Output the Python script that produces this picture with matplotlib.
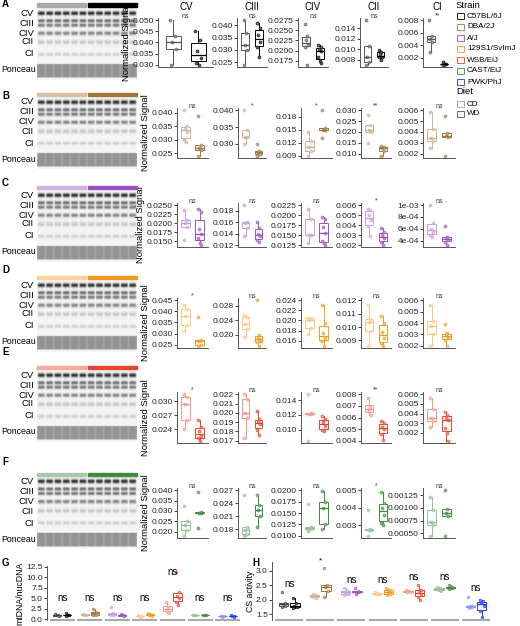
import numpy as np
import matplotlib
matplotlib.use("Agg")
import matplotlib.pyplot as plt
from matplotlib.colors import to_rgb
from matplotlib.patches import Rectangle

W, H = 520, 626
plt.rcParams['font.family'] = ['Liberation Sans', 'DejaVu Sans']

strains = ["C57BL/6J", "DBA/2J", "A/J", "129S1/SvImJ", "WSB/EiJ", "CAST/EiJ", "PWK/PhJ"]
strain_colors = ["#000000", "#A0763A", "#9B4FC0", "#F29A1D", "#E8432B", "#3C8C3C", "#1E35F0"]
complexes = ["CV", "CIII", "CIV", "CII", "CI"]
row_letters = ["A", "B", "C", "D", "E", "F"]

panel_A = [
    ([0.050, 0.043, 0.040, 0.037, 0.030], [0.045, 0.041, 0.036, 0.033, 0.031, 0.030], "ns", [0.030, 0.035, 0.040, 0.045, 0.050]),
    ([0.042, 0.037, 0.032, 0.030, 0.024], [0.041, 0.039, 0.036, 0.033, 0.031, 0.027], "ns", [0.025, 0.030, 0.035, 0.040]),
    ([0.0265, 0.0235, 0.0225, 0.0215, 0.021, 0.0165], [0.0215, 0.021, 0.0205, 0.020, 0.0185, 0.0175, 0.017], "ns", [0.0175, 0.0200, 0.0225, 0.0250, 0.0275]),
    ([0.0155, 0.0105, 0.0085, 0.0075, 0.007], [0.0098, 0.0095, 0.009, 0.0085, 0.0085, 0.008], "ns", [0.008, 0.010, 0.012, 0.014]),
    ([0.008, 0.0055, 0.005, 0.0045, 0.003], [0.0013, 0.0011, 0.0010, 0.0010, 0.0009], "**", [0.002, 0.004, 0.006, 0.008]),
]
panel_B = [
    ([0.041, 0.035, 0.034, 0.033, 0.030, 0.029], [0.039, 0.028, 0.027, 0.026, 0.024], "ns", [0.025, 0.030, 0.035, 0.040]),
    ([0.040, 0.034, 0.032, 0.032, 0.030], [0.030, 0.028, 0.0275, 0.027, 0.0265], "*", [0.030, 0.035, 0.040]),
    ([0.0145, 0.0125, 0.011, 0.010, 0.009], [0.0195, 0.0155, 0.0150, 0.015, 0.013], "*", [0.009, 0.012, 0.015, 0.018]),
    ([0.028, 0.023, 0.021, 0.020, 0.015], [0.0135, 0.013, 0.0125, 0.011, 0.009], "**", [0.010, 0.015, 0.020, 0.025, 0.030]),
    ([0.0058, 0.0043, 0.0034, 0.0032, 0.0025], [0.0055, 0.0039, 0.0036, 0.0035, 0.0018], "ns", [0.002, 0.003, 0.004, 0.005, 0.006]),
]
panel_C = [
    ([0.0235, 0.021, 0.020, 0.019, 0.0155], [0.024, 0.023, 0.0185, 0.017, 0.016, 0.0145, 0.014], "ns", [0.0150, 0.0175, 0.0200, 0.0225, 0.0250]),
    ([0.019, 0.016, 0.0158, 0.015, 0.0135], [0.016, 0.015, 0.014, 0.0135, 0.0128, 0.0125], "ns", [0.012, 0.014, 0.016, 0.018]),
    ([0.0215, 0.019, 0.015, 0.015, 0.013], [0.0195, 0.019, 0.017, 0.0155, 0.0135, 0.013, 0.0125], "ns", [0.0125, 0.0150, 0.0175, 0.0200, 0.0225]),
    ([0.0056, 0.0055, 0.005, 0.0045, 0.0039, 0.0029], [0.0037, 0.0033, 0.003, 0.0027, 0.0023, 0.002], "*", [0.002, 0.003, 0.004, 0.005, 0.006]),
    ([1.0e-3, 7.0e-4, 6.0e-4, 5.5e-4, 5.0e-4, 4.7e-4], [6.5e-4, 4.6e-4, 4.5e-4, 4.2e-4, 3.8e-4, 3.3e-4], "ns", [4e-4, 6e-4, 8e-4, 1e-3]),
]
panel_D = [
    ([0.043, 0.041, 0.038, 0.034, 0.031], [0.0375, 0.027, 0.0265, 0.025, 0.0245], "*", [0.025, 0.030, 0.035, 0.040, 0.045]),
    ([0.0255, 0.025, 0.023, 0.0215, 0.0195], [0.0295, 0.020, 0.019, 0.0185, 0.018, 0.017], "ns", [0.020, 0.024, 0.028]),
    ([0.0205, 0.0205, 0.0200, 0.0185, 0.0173], [0.023, 0.0195, 0.0175, 0.0165, 0.016, 0.015], "ns", [0.016, 0.018, 0.020, 0.022, 0.024]),
    ([0.01165, 0.0106, 0.0104, 0.0097, 0.0086], [0.0108, 0.0103, 0.0096, 0.0092, 0.0088, 0.0086], "ns", [0.009, 0.010, 0.011, 0.012]),
    ([0.0056, 0.0042, 0.0037, 0.0030, 0.0020], [0.0039, 0.0031, 0.0030, 0.0028, 0.0025, 0.0020], "ns", [0.002, 0.003, 0.004, 0.005, 0.006]),
]
panel_E = [
    ([0.0315, 0.0310, 0.0295, 0.026, 0.024], [0.026, 0.0245, 0.0235, 0.0225, 0.022, 0.0215], "*", [0.024, 0.027, 0.030]),
    ([0.022, 0.0215, 0.020, 0.0195, 0.0173], [0.0202, 0.0193, 0.0190, 0.0188, 0.0182, 0.0176], "ns", [0.017, 0.018, 0.019, 0.020, 0.021, 0.022]),
    ([0.0148, 0.0122, 0.0121, 0.0121, 0.0085], [0.0118, 0.0115, 0.011, 0.0105, 0.0100, 0.0098], "ns", [0.010, 0.012, 0.014]),
    ([0.0077, 0.0069, 0.0066, 0.0062], [0.0057, 0.0055, 0.0052, 0.0050, 0.0046, 0.0041], "**", [0.004, 0.005, 0.006, 0.007, 0.008]),
    ([0.0056, 0.0045, 0.0036, 0.0032, 0.0026], [0.0042, 0.0039, 0.0036, 0.0033, 0.0025, 0.0020, 0.0012], "ns", [0.002, 0.003, 0.004, 0.005, 0.006]),
]
panel_F = [
    ([0.0325, 0.025, 0.023, 0.021, 0.018], [0.039, 0.0295, 0.029, 0.029, 0.0215], "ns", [0.020, 0.025, 0.030, 0.035, 0.040]),
    ([0.026, 0.0185, 0.0178, 0.017, 0.0165], [0.0258, 0.0235, 0.0225, 0.021, 0.0185], "ns", [0.018, 0.021, 0.024, 0.027]),
    ([0.017, 0.012, 0.0117, 0.0115, 0.011], [0.0198, 0.0175, 0.016, 0.0125, 0.0115], "ns", [0.0100, 0.0125, 0.0150, 0.0175, 0.0200]),
    ([0.0039, 0.0028, 0.0027, 0.0027, 0.0024], [0.0049, 0.0043, 0.0040, 0.0036, 0.0031, 0.0030], "*", [0.003, 0.004, 0.005]),
    ([0.00122, 0.00095, 0.00072, 0.00066, 0.00045], [0.00135, 0.00097, 0.00090, 0.00085, 0.00045], "ns", [0.00050, 0.00075, 0.00100, 0.00125]),
]
panels = [panel_A, panel_B, panel_C, panel_D, panel_E, panel_F]
tick_fmt = [
    ["%.3f", "%.3f", "%.4f", "%.3f", "%.3f"],
    ["%.3f", "%.3f", "%.3f", "%.3f", "%.3f"],
    ["%.4f", "%.3f", "%.4f", "%.3f", "sci"],
    ["%.3f", "%.3f", "%.3f", "%.3f", "%.3f"],
    ["%.3f", "%.3f", "%.3f", "%.3f", "%.3f"],
    ["%.3f", "%.3f", "%.4f", "%.3f", "%.5f"],
]

mt_cd = [[1.2, 1.0, 0.9, 0.8], [1.2, 1.1, 1.0], [3.0, 1.5, 1.3, 1.0, 0.9], [1.0, 0.8, 0.7, 0.6],
         [4.0, 3.0, 2.0, 1.5], [1.1, 1.0, 0.9], [0.8, 0.7, 0.6]]
mt_wd = [[1.4, 1.1, 1.0, 0.9, 0.8], [2.5, 1.8, 1.4, 1.1, 0.9], [1.2, 1.0, 0.9, 0.8], [1.5, 1.2, 1.0, 0.8],
         [11.2, 6.5, 5.5, 5.0, 4.0, 3.3], [1.1, 1.0, 0.9], [0.9, 0.8, 0.7, 0.6]]
mt_sig = ["ns"] * 7
cs_cd = [[2.25, 1.9, 1.85, 1.8, 1.75], [2.2, 2.15, 2.1, 2.05], [2.4, 2.3, 2.25, 2.2, 2.15], [2.25, 2.22, 2.2, 2.18],
         [2.35, 2.3, 2.28, 2.25], [2.45, 2.4, 2.35, 2.3], [2.1, 1.8, 1.78, 1.75, 1.7]]
cs_wd = [[2.05, 1.9, 1.8, 1.75, 1.7], [3.1, 2.5, 2.45, 2.3, 2.1], [2.4, 2.3, 2.28, 2.25, 2.2], [2.4, 2.35, 2.25, 2.2, 2.15],
         [2.5, 2.35, 2.25, 2.2, 2.1, 2.0], [2.5, 2.45, 2.42, 2.4, 2.38], [2.0, 1.95, 1.9, 1.8, 1.6, 1.4]]
cs_sig = ["ns", "*", "ns", "ns", "ns", "ns", "ns"]

JIT = [-0.12, 0.08, -0.04, 0.12, -0.1, 0.03, 0.1]

def light(c, f=0.5):
    r = np.array(to_rgb(c))
    return tuple(r + (1 - r) * f)

fig = plt.figure(figsize=(W / 100, H / 100), dpi=100)

def add_ax(x0, y0, x1, y1):
    return fig.add_axes([x0 / W, 1 - y1 / H, (x1 - x0) / W, (y1 - y0) / H])

def draw_box(ax, pos, vals, col, width=0.6, lw=0.7, ms=2.2):
    ax.boxplot([vals], positions=[pos], widths=width, showfliers=False, patch_artist=True,
               medianprops=dict(color=col, lw=lw * 1.3), boxprops=dict(edgecolor=col, facecolor='none', lw=lw),
               whiskerprops=dict(color=col, lw=lw), capprops=dict(lw=0))
    for i, v in enumerate(vals):
        ax.plot(pos + JIT[i % len(JIT)] * width / 0.6, v, 'o', ms=ms, mfc=light(col, 0.35), mec=col, mew=0.4,
                alpha=0.9)

def style(ax):
    for s in ['top', 'right']:
        ax.spines[s].set_visible(False)
    for s in ['left', 'bottom']:
        ax.spines[s].set_color('#555555')
        ax.spines[s].set_linewidth(0.7)
    ax.tick_params(axis='y', labelsize=6, length=2, width=0.6, pad=1, colors='#222222')
    ax.tick_params(axis='x', length=0, labelbottom=False)

col_x = [
    [(158, 213), (237, 267), (298, 328), (360, 388), (423, 452)],
] + [[(177, 208), (238, 266), (301, 332), (361, 391), (423, 455)]] * 5
row_y = [(18, 67), (108, 158), (203, 247), (298, 348), (392, 443), (488, 538)]
bar_y = [5, 94, 187, 277, 367, 474]
letter_y = [4, 96, 183, 270, 352, 462]

col_centers = [186, 252, 313, 374, 437]
for j, c in enumerate(complexes):
    fig.text(col_centers[j] / W, 1 - 7 / H, c, ha='center', va='center', fontsize=7)

band_rel = [8, 18, 28, 37, 49]
band_y = [8, 15.5, 20, 28, 37, 49]
band_w = [1.4, 1.2, 1.2, 1.3, 1.5, 1.2]
band_strength = [0.8, 0.55, 0.5, 0.45, 0.18, 0.15]
for r in range(6):
    col = strain_colors[r]
    by = bar_y[r]
    fig.text(2 / W, 1 - letter_y[r] / H, row_letters[r], fontsize=7, fontweight='bold', va='center')
    fig.patches.append(Rectangle((37 / W, 1 - (by + 1.5) / H), 49 / W, 3 / H, transform=fig.transFigure,
                                 color=light(col, 0.55) if r > 0 else '#aaaaaa'))
    fig.patches.append(Rectangle((88 / W, 1 - (by + 1.5) / H), 49 / W, 3 / H, transform=fig.transFigure, color=col))
    top = by + 3
    hgt = 72
    ys = np.arange(hgt * 2) / 2.0
    xs = np.linspace(0, 12, 240)
    lane = np.clip(np.sin(np.pi * (xs % 1.0)) * 1.6, 0, 1)
    img = np.full((hgt * 2, 240), 0.96)
    for k in range(len(band_y)):
        prof = np.exp(-0.5 * ((ys - (band_y[k] - 3)) / band_w[k]) ** 2) * band_strength[k]
        img -= np.outer(prof, lane)
    pon = ((ys >= 56) & (ys <= 69)).astype(float) * 0.3
    img -= np.outer(pon, 0.75 + 0.25 * lane)
    img -= np.outer(((ys >= 56) & (ys <= 69)).astype(float) * 0.08, np.ones(240))
    bax = add_ax(37, top, 137, top + hgt)
    bax.imshow(np.clip(img, 0, 1), cmap='gray', vmin=0, vmax=1, aspect='auto', interpolation='bilinear')
    bax.axis('off')
    for k, lab in enumerate(["CV", "CIII", "CIV", "CII", "CI"]):
        yy = by + band_rel[k]
        fig.text(34 / W, 1 - yy / H, lab, ha='right', va='center', fontsize=6.8)
    fig.text(1 / W, 1 - (by + 65) / H, "Ponceau", ha='left', va='center', fontsize=6.3)

    for j in range(5):
        cd, wd, sig, ticks = panels[r][j]
        x0, x1 = col_x[r][j]
        y0, y1 = row_y[r]
        ax = add_ax(x0, y0, x1, y1)
        draw_box(ax, 1, cd, light(col, 0.45) if r > 0 else '#555555')
        draw_box(ax, 2, wd, col)
        lo, hi = min(ticks[0], min(cd + wd)), max(ticks[-1], max(cd + wd))
        span = hi - lo
        ax.set_ylim(lo - 0.05 * span, hi + 0.05 * span)
        ax.set_xlim(0.4, 2.6)
        ax.set_yticks(ticks)
        fmt = tick_fmt[r][j]
        if fmt == "sci":
            ax.set_yticklabels(["4e-04", "6e-04", "8e-04", "1e-03"])
        else:
            ax.set_yticklabels([fmt % t for t in ticks])
        ax.text(1.5, hi + 0.01 * span, sig, ha='center', va='bottom', fontsize=5, color='#333333')
        style(ax)
        if j == 0:
            ax.set_ylabel("Normalized Signal", fontsize=6.8, labelpad=1)

fig.text(456 / W, 1 - 5 / H, "Strain", fontsize=6.8, va='center')
for i, s in enumerate(strains):
    yy = 16 + i * 11
    c = strain_colors[i]
    fig.patches.append(Rectangle((457 / W, 1 - (yy + 3) / H), 7 / W, 6 / H, transform=fig.transFigure,
                                 fill=False, ec=c, lw=0.6))
    fig.text(467 / W, 1 - yy / H, s, fontsize=5.9, va='center')
fig.text(456 / W, 1 - 91 / H, "Diet", fontsize=6.8, va='center')
for i, (lab, c) in enumerate([("CD", '#999999'), ("WD", '#555555')]):
    yy = 104 + i * 9.5
    fig.patches.append(Rectangle((457 / W, 1 - (yy + 3) / H), 7 / W, 6 / H, transform=fig.transFigure,
                                 fill=False, ec=c, lw=0.6))
    fig.text(467 / W, 1 - yy / H, lab, fontsize=5.9, va='center')

def group_panel(ax, cd_list, wd_list, sig, ylim, ticks, ylabel, sig_y_fixed=None):
    for i in range(7):
        c = strain_colors[i]
        base = i * 3
        draw_box(ax, base + 0.6, cd_list[i], light(c, 0.45) if i > 0 else '#444444', width=0.9, ms=2)
        draw_box(ax, base + 1.7, wd_list[i], c, width=0.9, ms=2)
        ax.plot([base - 0.1, base + 2.4], [0, 0], transform=ax.get_xaxis_transform(), color='#aaaaaa',
                lw=1.5, clip_on=False)
        top = max(cd_list[i] + wd_list[i])
        yy = sig_y_fixed[i] if sig_y_fixed is not None else top + 0.06 * (ylim[1] - ylim[0])
        ax.text(base + 1.15, yy, sig[i], ha='center', va='bottom', fontsize=7 if sig[i] == "ns" else 6)
    ax.set_xlim(-0.5, 20.5)
    ax.set_ylim(*ylim)
    ax.set_yticks(ticks)
    style(ax)
    ax.spines['bottom'].set_visible(False)
    ax.set_ylabel(ylabel, fontsize=6.3, labelpad=1)

fig.text(2 / W, 1 - 563 / H, "G", fontsize=7, fontweight='bold', va='center')
fig.text(252 / W, 1 - 563 / H, "H", fontsize=7, fontweight='bold', va='center')
axg = add_ax(47, 566, 240, 620)
mt_sig_y = [3.8, 3.8, 3.8, 3.8, 10.0, 3.8, 3.8]
group_panel(axg, mt_cd, mt_wd, mt_sig, (-0.2, 12.7), [0, 2.5, 5.0, 7.5, 10.0, 12.5], "mtDNA/nucDNA", mt_sig_y)
axg.set_yticklabels(["0.0", "2.5", "5.0", "7.5", "10.0", "12.5"])
axh = add_ax(272, 562, 490, 620)
group_panel(axh, cs_cd, cs_wd, cs_sig, (1.3, 3.3), [1.5, 2.0, 2.5, 3.0], "CS activity")
axh.set_yticklabels(["1.5", "2.0", "2.5", "3.0"])

fig.savefig("out.png", dpi=100)
